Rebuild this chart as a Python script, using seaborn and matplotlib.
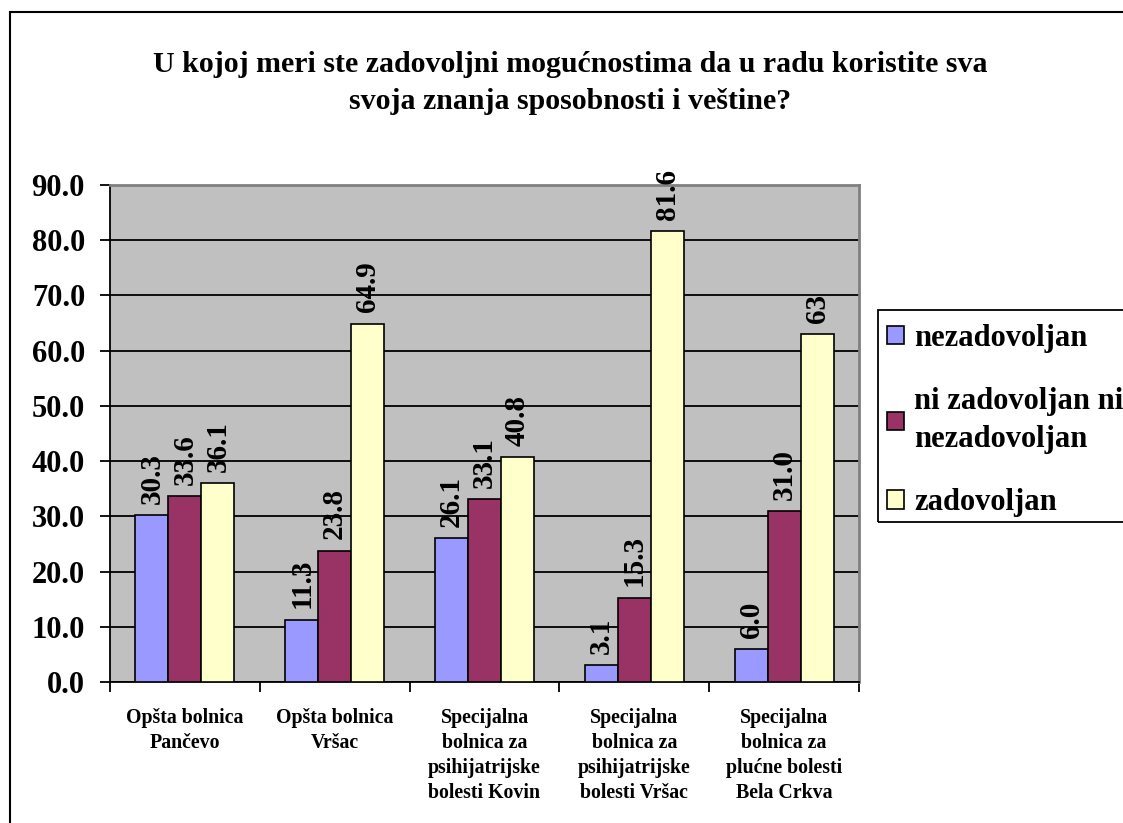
import pandas as pd
import numpy as np
import matplotlib
matplotlib.use("Agg")
import matplotlib.pyplot as plt
import seaborn as sns
from matplotlib.patches import Rectangle
from matplotlib.ticker import FixedLocator, FormatStrFormatter

# ================= DATA =================

categories = [
    "Opšta bolnica\nPančevo",
    "Opšta bolnica\nVršac",
    "Specijalna\nbolnica za\npsihijatrijske\nbolesti Kovin",
    "Specijalna\nbolnica za\npsihijatrijske\nbolesti Vršac",
    "Specijalna\nbolnica za\nplućne bolesti\nBela Crkva",
]

series = ["nezadovoljan", "ni zadovoljan ni\nnezadovoljan", "zadovoljan"]

nezadovoljan = [30.3, 11.3, 26.1, 3.1, 6.0]
ni_ni = [33.6, 23.8, 33.1, 15.3, 31.0]
zadovoljan = [36.1, 64.9, 40.8, 81.6, 63.0]

label_nezadovoljan = ["30.3", "11.3", "26.1", "3.1", "6.0"]
label_ni_ni = ["33.6", "23.8", "33.1", "15.3", "31.0"]
label_zadovoljan = ["36.1", "64.9", "40.8", "81.6", "63"]

colors = ["#9999FF", "#993366", "#FFFFCC"]

title = ("U kojoj meri ste zadovoljni mogućnostima da u radu koristite sva\n"
         "svoja znanja sposobnosti i veštine?")

# ================= LONG FORMAT =================

df = pd.DataFrame({
    "kategorija": categories * 3,
    "serija": np.repeat(series, len(categories)),
    "vrednost": nezadovoljan + ni_ni + zadovoljan,
})

# ================= PLOT =================

sns.set_style("white")
plt.rcParams["font.family"] = ["Liberation Serif", "DejaVu Serif"]
plt.rcParams["font.weight"] = "bold"
plt.rcParams["text.color"] = "black"
plt.rcParams["xtick.color"] = "black"
plt.rcParams["ytick.color"] = "black"
plt.rcParams["axes.labelcolor"] = "black"

fig = plt.figure(figsize=(11.23, 8.23), dpi=100)
ax = fig.add_axes([110 / 1123, 1 - 682 / 823, 749 / 1123, 497 / 823])

sns.barplot(
    data=df,
    x="kategorija",
    y="vrednost",
    hue="serija",
    hue_order=series,
    order=categories,
    palette=colors,
    width=0.66,
    edgecolor="black",
    linewidth=1.2,
    saturation=1,
    ax=ax,
    zorder=3,
)

ax.set_facecolor("#C0C0C0")
ax.set_ylim(0, 90)
ax.set_xlim(-0.5, 4.5)
ax.yaxis.set_major_locator(FixedLocator(np.arange(0, 91, 10)))
ax.yaxis.set_major_formatter(FormatStrFormatter("%.1f"))
ax.grid(axis="y", color="black", linewidth=1.3, zorder=0)
ax.set_axisbelow(True)

ax.set_xlabel("")
ax.set_ylabel("")

ax.tick_params(axis="y", labelsize=22, length=7, width=1.3, direction="out",
               left=True, pad=11)
ax.tick_params(axis="x", which="major", length=0, labelsize=14.3, pad=19)
ax.set_xticks(np.arange(-0.5, 5, 1), minor=True)
ax.tick_params(axis="x", which="minor", length=7, width=1.3, direction="out",
               bottom=True)
for lbl in ax.get_xticklabels():
    lbl.set_fontweight("bold")
    lbl.set_linespacing(1.33)
for lbl in ax.get_yticklabels():
    lbl.set_fontweight("bold")

for side in ["left", "bottom"]:
    ax.spines[side].set_color("black")
    ax.spines[side].set_linewidth(1.3)
for side in ["top", "right"]:
    ax.spines[side].set_color("#808080")
    ax.spines[side].set_linewidth(2)

# ================= BAR LABELS =================

bar_labels = [label_nezadovoljan, label_ni_ni, label_zadovoljan]
for container, labels in zip(ax.containers, bar_labels):
    ax.bar_label(container, labels=labels, rotation=90, padding=8,
                 fontsize=21, fontweight="bold", color="black")

# ================= LEGEND =================

ax.legend_.remove()
handles = [Rectangle((0, 0), 1, 1, facecolor=c, edgecolor="black", linewidth=1.2)
           for c in colors]
leg = fig.legend(
    handles,
    series,
    loc="upper left",
    bbox_to_anchor=(887 / 1123, 1 - 324 / 823),
    prop={"weight": "bold", "size": 22},
    frameon=False,
    handlelength=0.55,
    handleheight=0.55,
    handletextpad=0.35,
    labelspacing=1.12,
    borderpad=0,
    borderaxespad=0,
)
for t in leg.get_texts():
    t.set_linespacing(1.4)

fig.patches.append(Rectangle((878 / 1123, 1 - 522 / 823), 0.3, 212 / 823,
                             transform=fig.transFigure, fill=False,
                             edgecolor="black", linewidth=1.3))

# ================= TITLE & BORDER =================

fig.text(570 / 1123, 1 - 83 / 823, title, ha="center", va="center",
         fontsize=21.5, fontweight="bold", linespacing=1.5)

fig.patches.append(Rectangle((10 / 1123, -0.1), 1.2, 1 - 12 / 823 + 0.1,
                             transform=fig.transFigure, fill=False,
                             edgecolor="black", linewidth=1.5))

fig.savefig("out.png", dpi=100)
